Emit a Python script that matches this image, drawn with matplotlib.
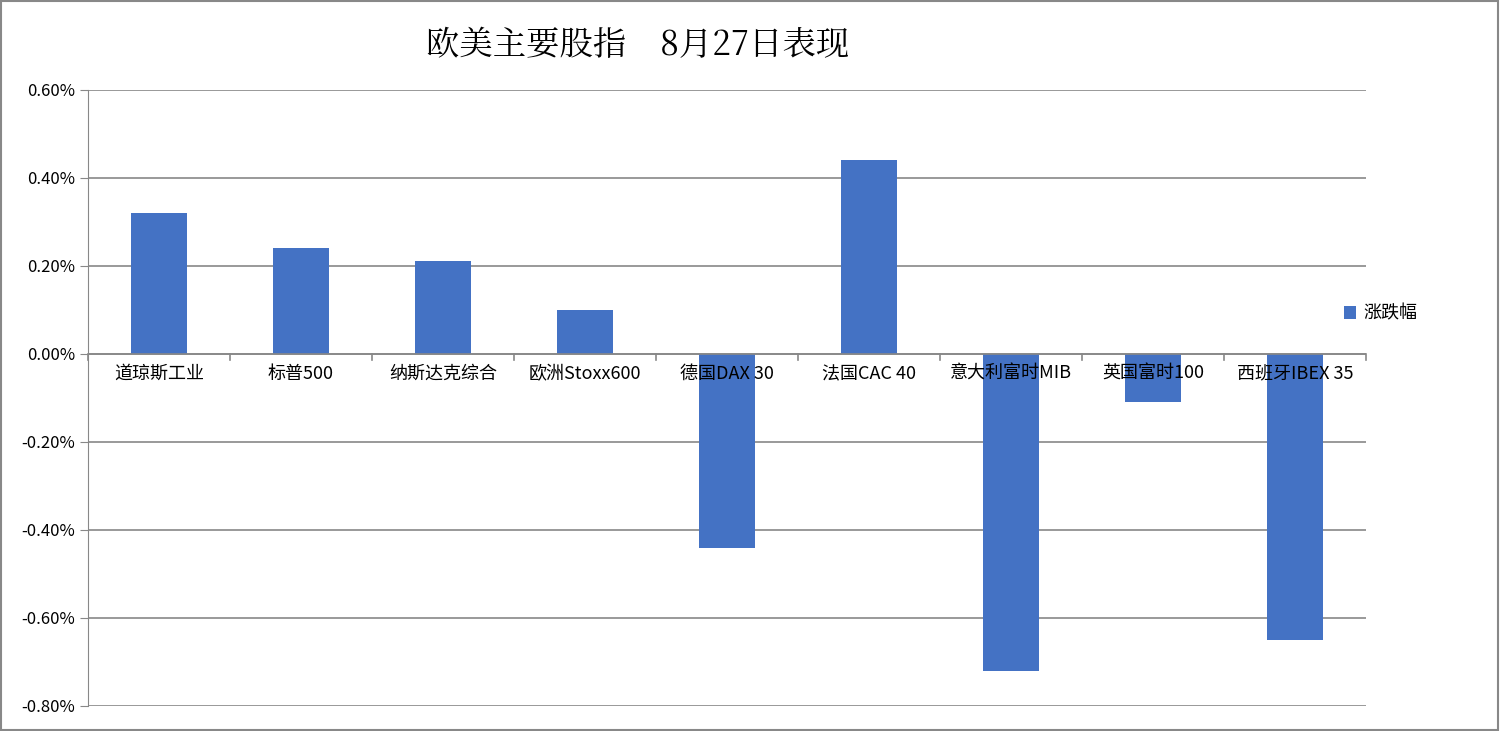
import matplotlib
matplotlib.use("Agg")
import matplotlib.pyplot as plt
from matplotlib.ticker import FuncFormatter, MultipleLocator
from matplotlib.patches import Rectangle

plt.rcParams['font.family'] = ['Noto Sans CJK SC', 'DejaVu Sans']

categories = ["道琼斯工业", "标普500", "纳斯达克综合", "欧洲Stoxx600", "德国DAX 30",
              "法国CAC 40", "意大利富时MIB", "英国富时100", "西班牙IBEX 35"]
values = [0.32, 0.24, 0.21, 0.10, -0.44, 0.44, -0.72, -0.11, -0.65]
series_name = "涨跌幅"
title = "欧美主要股指    8月27日表现"

fig = plt.figure(figsize=(15, 7.31), dpi=100)
ax = fig.add_axes([0.0587, 0.0342, 0.852, 0.843])
x = list(range(len(categories)))
ax.bar(x, values, width=0.4, color="#4472C4", label=series_name, zorder=3)
ax.set_xlim(-0.5, len(categories) - 0.5)
ax.set_ylim(-0.8, 0.6)
ax.yaxis.set_major_locator(MultipleLocator(0.2))
ax.yaxis.set_major_formatter(FuncFormatter(lambda v, p: f"{v:.2f}%"))
ax.grid(axis='y', color='#888888', linewidth=1.2, zorder=0)
for s in ['top', 'right', 'bottom']:
    ax.spines[s].set_visible(False)
ax.spines['left'].set_color('#888888')
ax.tick_params(axis='y', length=6, color='#888888', labelsize=12)
ax.set_xticks([])
ax.axhline(0, color='#888888', linewidth=1.2, zorder=4)
for b in range(len(categories) + 1):
    ax.plot([b - 0.5, b - 0.5], [0, -0.015], color='#888888', lw=1.2, zorder=4, clip_on=False)
for i, c in enumerate(categories):
    ax.text(i, -0.025, c, ha='center', va='top', fontsize=13, zorder=5)
fig.text(0.425, 0.938, title, ha='center', va='center', fontsize=24,
         family=['Noto Serif CJK SC', 'Noto Sans CJK SC', 'DejaVu Sans'])
fig.legend(loc='center left', bbox_to_anchor=(0.885, 0.571), frameon=False,
           fontsize=13, handlelength=0.7, handleheight=0.7, handletextpad=0.4)
fig.patches.append(Rectangle((0.0005, 0.001), 0.998, 0.997, transform=fig.transFigure,
                             fill=False, edgecolor='#888888', lw=1.5))
fig.savefig("out.png", dpi=100)
